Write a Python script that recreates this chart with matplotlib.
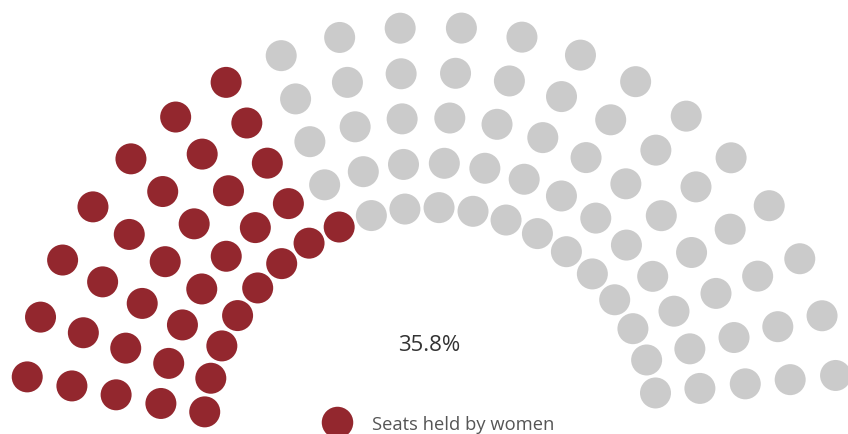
import numpy as np
import matplotlib
matplotlib.use("Agg")
import matplotlib.pyplot as plt
from matplotlib import font_manager

# ---- data ----
seats_per_row = [20, 20, 20, 20, 20]          # outer -> inner
women_seats = 36
share_label = "35.8%"
legend_label = "Seats held by women"

# ---- style / layout ----
RED = "#93272e"
GREY = "#cbcbcb"
W, H = 848, 435
cx, cy = 431.5, 436.5
radii = [408.5, 363.0, 318.0, 272.5, 228.0]
mid_angles = [90.1, 90.5, 91.0, 91.6, 92.4]
span = 163.3
dot_px = 31.0

def pick_font(names):
    for n in names:
        try:
            font_manager.findfont(font_manager.FontProperties(family=n), fallback_to_default=False)
            return n
        except Exception:
            continue
    return "DejaVu Sans"

num_font = pick_font(["Open Sans", "Lato"])

fig = plt.figure(figsize=(W / 100, H / 100), dpi=100)
ax = fig.add_axes([0, 0, 1, 1])
ax.set_xlim(0, W)
ax.set_ylim(H, 0)
ax.set_aspect("equal")
ax.axis("off")

# seat positions
xs, ys, angs = [], [], []
for n, r, m in zip(seats_per_row, radii, mid_angles):
    a = np.linspace(m + span / 2, m - span / 2, n)
    xs.extend(cx + r * np.cos(np.radians(a)))
    ys.extend(cy - r * np.sin(np.radians(a)))
    angs.extend(a)
xs, ys, angs = map(np.array, (xs, ys, angs))
order = np.argsort(-angs, kind="stable")
colors = np.array([GREY] * len(xs), dtype=object)
colors[order[:women_seats]] = RED

s = (dot_px * 72 / 100) ** 2
ax.scatter(xs, ys, s=s, c=list(colors), linewidths=0)

ax.text(429.5, 345.5, share_label, ha="center", va="center", fontsize=16,
        family=num_font, color="#333333")

ax.scatter([336.7], [422.7], s=(31.5 * 72 / 100) ** 2, c=RED, linewidths=0)
ax.text(372, 430, legend_label, ha="left", va="baseline", fontsize=13.2,
        family=num_font, color="#555555")

fig.savefig("out.png", dpi=100)
